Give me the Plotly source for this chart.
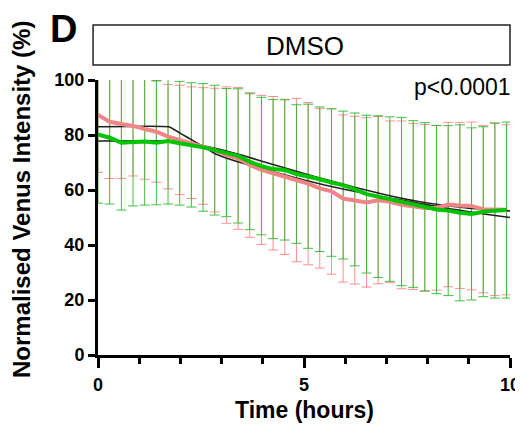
import plotly.graph_objects as go

# ---- data ----
time_h = [0, 0.283, 0.567, 0.85, 1.133, 1.417, 1.7, 1.983, 2.267, 2.55, 2.833, 3.117,
          3.4, 3.683, 3.967, 4.25, 4.533, 4.817, 5.1, 5.383, 5.667, 5.95, 6.233, 6.517,
          6.8, 7.083, 7.367, 7.65, 7.933, 8.217, 8.5, 8.783, 9.067, 9.35, 9.633, 9.917]

green_mean = [80.2, 79.0, 77.2, 77.4, 77.6, 77.2, 77.8, 77.0, 76.4, 75.5, 74.5, 73.6,
              72.4, 70.3, 68.7, 67.6, 67.3, 65.8, 65.0, 63.9, 62.7, 61.8, 60.2, 58.5,
              57.6, 56.7, 55.8, 54.9, 53.9, 52.9, 52.5, 51.7, 51.3, 52.1, 52.5, 52.7]
green_sd = [25.0, 24.1, 24.5, 23.2, 23.1, 22.6, 22.9, 22.5, 22.6, 23.2, 23.6, 23.3,
            24.4, 24.7, 25.0, 25.3, 25.5, 25.2, 26.2, 26.3, 26.8, 26.9, 27.8, 28.7,
            29.4, 29.9, 30.6, 30.3, 30.6, 30.6, 30.9, 32.0, 31.3, 30.9, 31.8, 32.0]

pink_mean = [87.3, 84.8, 84.0, 83.3, 82.2, 81.2, 79.4, 78.2, 77.2, 76.0, 74.5, 72.7,
             71.5, 69.1, 67.3, 66.1, 64.8, 63.6, 62.3, 60.6, 59.5, 56.9, 56.3, 55.5,
             56.3, 55.7, 54.6, 54.0, 53.5, 53.5, 54.7, 54.4, 54.2, 53.0, 53.0, 52.8]
pink_sd = [20.9, 20.6, 19.8, 18.2, 18.3, 18.4, 19.0, 19.9, 20.3, 21.2, 22.5, 24.8,
           25.8, 26.3, 27.1, 27.9, 28.2, 29.7, 29.5, 29.0, 30.1, 30.4, 30.5, 30.8,
           30.4, 29.4, 30.5, 30.2, 30.3, 29.9, 29.9, 30.2, 30.5, 30.4, 31.4, 30.9]

fit_pink_t = [0, 1.72, 2.0, 2.35, 2.83, 3.39, 3.96, 4.5, 5.0, 5.5, 6.0, 6.5, 7.0,
              7.5, 8.0, 8.5, 9.0, 9.5, 10.0]
fit_pink_y = [83.0, 83.0, 80.6, 77.6, 73.3, 70.3, 67.9, 65.6, 63.6, 61.8, 60.2, 58.7,
              57.3, 56.0, 54.6, 53.3, 52.1, 51.0, 50.0]

fit_green_t = [0, 1.72, 2.5, 3.0, 3.5, 4.0, 4.5, 5.0, 5.5, 6.0, 6.5, 7.0, 7.5, 8.0,
               8.5, 9.0, 9.5, 10.0]
fit_green_y = [77.8, 77.8, 76.3, 74.6, 72.6, 70.4, 68.2, 66.0, 63.9, 61.9, 60.0, 58.2,
               56.6, 55.3, 54.2, 53.4, 52.8, 52.4]

x_ticks = [0, 5, 10]
y_ticks = [0, 20, 40, 60, 80, 100]

PINK = "#f08585"
GREEN = "#00c400"
invisible = dict(size=1, color="rgba(0,0,0,0)")

fig = go.Figure()
# error bars (pink behind green)
fig.add_trace(go.Scatter(x=time_h, y=pink_mean, mode="markers", marker=invisible,
                         error_y=dict(type="data", array=pink_sd, visible=True,
                                      color="rgba(255,125,125,0.85)", thickness=1, width=5),
                         hoverinfo="skip", showlegend=False))
fig.add_trace(go.Scatter(x=time_h, y=green_mean, mode="markers", marker=invisible,
                         error_y=dict(type="data", array=green_sd, visible=True,
                                      color="rgba(45,185,45,0.9)", thickness=1, width=5),
                         hoverinfo="skip", showlegend=False))
# fitted curves
fig.add_trace(go.Scatter(x=fit_pink_t, y=fit_pink_y, mode="lines",
                         line=dict(color="#222222", width=1.6, shape="spline", smoothing=0.3),
                         showlegend=False))
fig.add_trace(go.Scatter(x=fit_green_t, y=fit_green_y, mode="lines",
                         line=dict(color="#222222", width=1.6, shape="spline", smoothing=0.3),
                         showlegend=False))
# mean lines
fig.add_trace(go.Scatter(x=time_h, y=pink_mean, mode="lines",
                         line=dict(color=PINK, width=4), showlegend=False))
fig.add_trace(go.Scatter(x=time_h, y=green_mean, mode="lines",
                         line=dict(color=GREEN, width=4), showlegend=False))

tickfont = dict(family="Liberation Sans, Arial, sans-serif", size=18, color="black", weight="bold")

# the page body has an 8px default margin, so the figure is 8px smaller than the window
fig.update_layout(
    template="none",
    width=515, height=420,
    margin=dict(l=90, r=13, t=72, b=73, autoexpand=False),
    plot_bgcolor="white", paper_bgcolor="white",
    showlegend=False,
    xaxis=dict(range=[0, 10], tickvals=x_ticks, ticktext=[str(v) for v in x_ticks],
               automargin=False,
               showgrid=False, zeroline=False, showline=True, linecolor="black", linewidth=3,
               ticks="outside", ticklen=10, tickwidth=3, tickcolor="black",
               tickfont=tickfont, ticklabelstandoff=1,
               minor=dict(dtick=1, tick0=0, ticks="outside", ticklen=6, tickwidth=3,
                          tickcolor="black", showgrid=False)),
    yaxis=dict(range=[0, 100], tickvals=y_ticks, ticktext=[str(v) for v in y_ticks],
               automargin=False,
               showgrid=False, zeroline=False, showline=True, linecolor="black", linewidth=3,
               ticks="outside", ticklen=7, tickwidth=3, tickcolor="black",
               tickfont=tickfont, ticklabelstandoff=0),
)

fig.add_shape(type="rect", xref="paper", yref="paper", x0=-0.012, x1=1.0, y0=1.0545, y1=1.2,
              line=dict(color="#222222", width=1.5), fillcolor="white")

annos = [
    dict(text="DMSO", x=0.502, y=1.1236, font=dict(size=26, color="black")),
    dict(text="p<0.0001", x=1.007, y=0.9745, xanchor="right",
         font=dict(size=23, color="black")),
    dict(text="D", x=-0.083, y=1.185, font=dict(size=38, color="black", weight="bold")),
    dict(text="Time (hours)", x=0.5, y=-0.2, font=dict(size=23, color="black", weight="bold")),
    dict(text="Normalised Venus Intensity (%)", x=-0.186, y=0.565, textangle=-90,
         font=dict(size=24, color="black", weight="bold")),
]
for a in annos:
    base = dict(xref="paper", yref="paper", showarrow=False, xanchor="center", yanchor="middle")
    base.update(a)
    base["font"] = dict(family="Liberation Sans, Arial, sans-serif", **a["font"])
    fig.add_annotation(**base)

fig.write_html("out.html")
